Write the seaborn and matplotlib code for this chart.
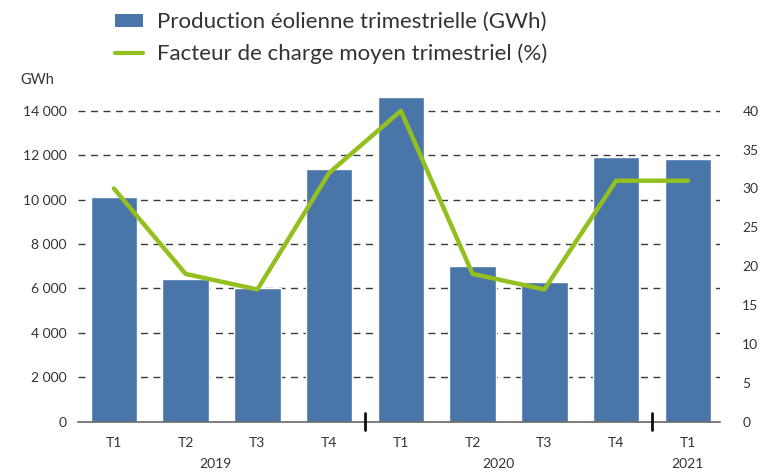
import matplotlib
matplotlib.use("Agg")
import matplotlib.pyplot as plt
import matplotlib.ticker as mticker
from matplotlib.patches import Patch
from matplotlib.lines import Line2D
import seaborn as sns
import pandas as pd

# ====== Data ======
quarters = ["T1", "T2", "T3", "T4", "T1", "T2", "T3", "T4", "T1"]
periods = ["2019-T1", "2019-T2", "2019-T3", "2019-T4",
           "2020-T1", "2020-T2", "2020-T3", "2020-T4", "2021-T1"]
production_gwh = [10100, 6400, 6000, 11400, 14600, 7000, 6300, 11900, 11850]
load_factor_pct = [30, 19, 17, 32, 40, 19, 17, 31, 31]
years = ["2019", "2020", "2021"]
year_pos = [1.42, 5.36, 8.0]
year_breaks = [3.5, 7.5]

bar_label = "Production éolienne trimestrielle (GWh)"
line_label = "Facteur de charge moyen trimestriel (%)"

df = pd.DataFrame({"period": periods, "production": production_gwh,
                   "facteur": load_factor_pct, "pos": range(len(periods))})

# ====== Style ======
sns.set_style("white")
plt.rcParams["font.family"] = ["Lato", "DejaVu Sans"]
text_col = "#333333"
bar_col = "#4a75a8"
line_col = "#93c01f"
grid_col = "#3a3a3a"

fig = plt.figure(figsize=(7.76, 4.75), dpi=100)
ax = fig.add_axes([0.1005, 0.1126, 0.8275, 0.6915])

sns.barplot(data=df, x="period", y="production", color=bar_col,
            width=0.65, saturation=1, ax=ax, zorder=2)

ymax = 14800
ax.set_ylim(0, ymax)
ax.set_xlim(-0.5, 8.45)
ax.set_axisbelow(True)
ax.set_yticks(range(0, 14001, 2000))
ax.yaxis.set_major_formatter(mticker.FuncFormatter(
    lambda v, p: f"{int(v):,}".replace(",", " ")))
ax.yaxis.grid(True, linestyle=(0, (5, 4)), color=grid_col, linewidth=1)
ax.tick_params(axis="y", length=0, pad=8, labelsize=10, labelcolor=text_col)
for gl, v in zip(ax.yaxis.get_gridlines(), ax.get_yticks()):
    if v == 0:
        gl.set_visible(False)

ax.set_xticks(range(len(quarters)))
ax.set_xticklabels(quarters)
ax.tick_params(axis="x", length=0, pad=11, labelsize=10, labelcolor=text_col)
ax.set_xticks([0.5, 1.5, 2.5, 4.5, 5.5, 6.5], minor=True)
ax.tick_params(axis="x", which="minor", direction="inout", length=7,
               width=0.8, color="#555555")
ax.set_xlabel("")
ax.set_ylabel("")

for s in ["left", "right", "top"]:
    ax.spines[s].set_visible(False)
ax.spines["bottom"].set_color("#666666")
ax.spines["bottom"].set_linewidth(1.2)

# year separators and labels
for b in year_breaks:
    ax.axvline(b, ymin=-0.025, ymax=0.025, color="#111111", lw=2,
               clip_on=False, zorder=5)
for yl, xp in zip(years, year_pos):
    ax.text(xp, -0.128, yl, transform=ax.get_xaxis_transform(),
            ha="center", va="center", fontsize=10, color=text_col)

ax.text(-0.09, 1.04, "GWh", transform=ax.transAxes, ha="left",
        va="center", fontsize=10.5, color=text_col)

# ====== Load factor line (right axis) ======
ax2 = ax.twinx()
sns.lineplot(data=df, x="pos", y="facteur", color=line_col, linewidth=3.2,
             ax=ax2, zorder=3)
ax2.set_ylim(0, ymax / 350)
ax2.set_yticks(range(0, 41, 5))
ax2.tick_params(axis="y", length=0, pad=16, labelsize=10, labelcolor=text_col)
ax2.set_ylabel("")
ax2.set_xlabel("")
for s in ["left", "right", "top", "bottom"]:
    ax2.spines[s].set_visible(False)
ax2.set_xlim(-0.5, 8.45)

# ====== Legend ======
handles = [Patch(facecolor=bar_col, edgecolor="none"),
           Line2D([0], [0], color=line_col, lw=3)]
fig.legend(handles, [bar_label, line_label], loc="upper left",
           bbox_to_anchor=(0.148, 0.974), frameon=False, fontsize=16,
           borderpad=0, borderaxespad=0,
           handlelength=1.26, handleheight=0.5, handletextpad=0.63,
           labelspacing=0.5, labelcolor=text_col)

fig.savefig("out.png", dpi=100)
